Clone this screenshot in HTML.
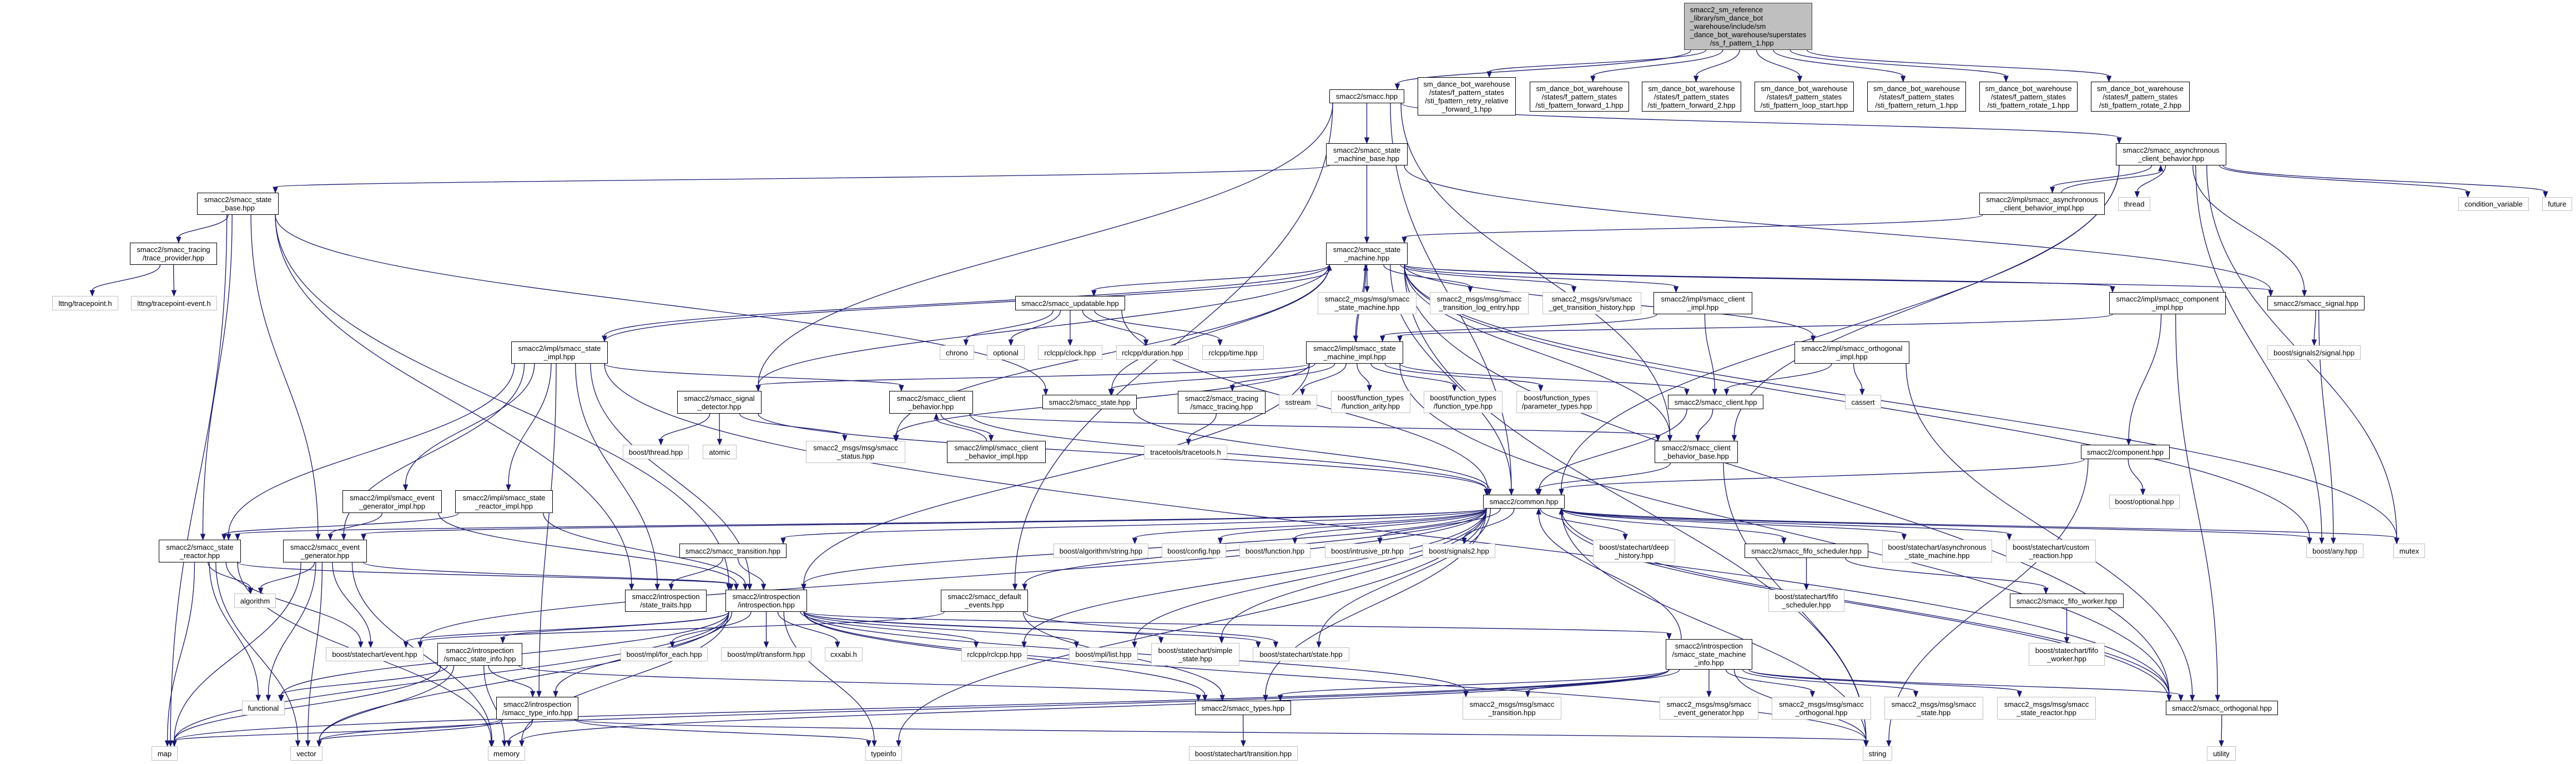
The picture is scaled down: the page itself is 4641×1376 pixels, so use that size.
<!DOCTYPE html>
<html><head><meta charset="utf-8">
<style>
html,body{margin:0;padding:0;background:#fff;}
#wrap{position:relative;width:4641px;height:1376px;overflow:hidden;background:#fff;}
svg{position:absolute;left:0;top:0;}
.n{position:absolute;box-sizing:border-box;border:1.5px solid #000;background:#fff;display:flex;align-items:center;justify-content:center;text-align:center;font:13px/15px "Liberation Sans",sans-serif;white-space:nowrap;color:#000;}
.n span{display:inline-block;transform-origin:center center;}
.g{border-color:#c0c0c0;}
#root{background:#bfbfbf;border-color:#404040;text-align:left;}
</style></head><body><div id="wrap">
<svg id="ed" width="4641" height="1376"></svg>
<div class="n" id="root" style="left:3034px;top:5px;width:231px;height:85px"><span>smacc2_sm_reference<br>_library/sm_dance_bot<br>_warehouse/include/sm<br>_dance_bot_warehouse/superstates<br>&nbsp;&nbsp;&nbsp;&nbsp;&nbsp;&nbsp;&nbsp;&nbsp;&nbsp;&nbsp;/ss_f_pattern_1.hpp</span></div>
<div class="n" id="smacc" style="left:2395px;top:161px;width:135px;height:25px"><span>smacc2/smacc.hpp</span></div>
<div class="n" id="retry" style="left:2554px;top:139px;width:177px;height:69px"><span>sm_dance_bot_warehouse<br>/states/f_pattern_states<br>/sti_fpattern_retry_relative<br>_forward_1.hpp</span></div>
<div class="n" id="fwd1" style="left:2756px;top:147px;width:179px;height:54px"><span>sm_dance_bot_warehouse<br>/states/f_pattern_states<br>/sti_fpattern_forward_1.hpp</span></div>
<div class="n" id="fwd2" style="left:2958px;top:147px;width:179px;height:54px"><span>sm_dance_bot_warehouse<br>/states/f_pattern_states<br>/sti_fpattern_forward_2.hpp</span></div>
<div class="n" id="loop" style="left:3161px;top:147px;width:179px;height:54px"><span>sm_dance_bot_warehouse<br>/states/f_pattern_states<br>/sti_fpattern_loop_start.hpp</span></div>
<div class="n" id="ret1" style="left:3364px;top:147px;width:178px;height:54px"><span>sm_dance_bot_warehouse<br>/states/f_pattern_states<br>/sti_fpattern_return_1.hpp</span></div>
<div class="n" id="rot1" style="left:3566px;top:147px;width:177px;height:54px"><span>sm_dance_bot_warehouse<br>/states/f_pattern_states<br>/sti_fpattern_rotate_1.hpp</span></div>
<div class="n" id="rot2" style="left:3767px;top:147px;width:178px;height:54px"><span>sm_dance_bot_warehouse<br>/states/f_pattern_states<br>/sti_fpattern_rotate_2.hpp</span></div>
<div class="n" id="smb" style="left:2389px;top:258px;width:147px;height:40px"><span>smacc2/smacc_state<br>_machine_base.hpp</span></div>
<div class="n" id="async" style="left:3812px;top:258px;width:199px;height:40px"><span>smacc2/smacc_asynchronous<br>_client_behavior.hpp</span></div>
<div class="n" id="sbase" style="left:355px;top:347px;width:147px;height:40px"><span>smacc2/smacc_state<br>_base.hpp</span></div>
<div class="n" id="asyncimpl" style="left:3566px;top:347px;width:226px;height:40px"><span>smacc2/impl/smacc_asynchronous<br>_client_behavior_impl.hpp</span></div>
<div class="n g" id="thread" style="left:3816px;top:355px;width:58px;height:25px"><span>thread</span></div>
<div class="n g" id="condvar" style="left:4429px;top:355px;width:127px;height:25px"><span>condition_variable</span></div>
<div class="n g" id="future" style="left:4580px;top:355px;width:54px;height:25px"><span>future</span></div>
<div class="n" id="tracep" style="left:234px;top:437px;width:157px;height:40px"><span>smacc2/smacc_tracing<br>/trace_provider.hpp</span></div>
<div class="n" id="sm" style="left:2389px;top:437px;width:147px;height:40px"><span>smacc2/smacc_state<br>_machine.hpp</span></div>
<div class="n g" id="lttng1" style="left:94px;top:533px;width:119px;height:26px"><span>lttng/tracepoint.h</span></div>
<div class="n g" id="lttng2" style="left:236px;top:533px;width:155px;height:26px"><span>lttng/tracepoint-event.h</span></div>
<div class="n" id="updatable" style="left:1829px;top:533px;width:198px;height:26px"><span>smacc2/smacc_updatable.hpp</span></div>
<div class="n g" id="msgsm" style="left:2374px;top:526px;width:178px;height:40px"><span>smacc2_msgs/msg/smacc<br>_state_machine.hpp</span></div>
<div class="n g" id="msgtle" style="left:2576px;top:526px;width:178px;height:40px"><span>smacc2_msgs/msg/smacc<br>_transition_log_entry.hpp</span></div>
<div class="n g" id="srvgth" style="left:2779px;top:526px;width:178px;height:40px"><span>smacc2_msgs/srv/smacc<br>_get_transition_history.hpp</span></div>
<div class="n" id="clientimpl" style="left:2979px;top:526px;width:178px;height:40px"><span>smacc2/impl/smacc_client<br>_impl.hpp</span></div>
<div class="n" id="compimpl" style="left:3800px;top:526px;width:210px;height:40px"><span>smacc2/impl/smacc_component<br>_impl.hpp</span></div>
<div class="n" id="signal" style="left:4085px;top:533px;width:175px;height:26px"><span>smacc2/smacc_signal.hpp</span></div>
<div class="n" id="stateimpl" style="left:921px;top:615px;width:174px;height:40px"><span>smacc2/impl/smacc_state<br>_impl.hpp</span></div>
<div class="n g" id="chrono" style="left:1693px;top:622px;width:62px;height:26px"><span>chrono</span></div>
<div class="n g" id="optional" style="left:1778px;top:622px;width:68px;height:26px"><span>optional</span></div>
<div class="n g" id="clock" style="left:1870px;top:622px;width:116px;height:26px"><span>rclcpp/clock.hpp</span></div>
<div class="n g" id="duration" style="left:2011px;top:622px;width:131px;height:26px"><span>rclcpp/duration.hpp</span></div>
<div class="n g" id="time" style="left:2166px;top:622px;width:111px;height:26px"><span>rclcpp/time.hpp</span></div>
<div class="n" id="smimpl" style="left:2353px;top:615px;width:175px;height:40px"><span>smacc2/impl/smacc_state<br>_machine_impl.hpp</span></div>
<div class="n" id="orthimpl" style="left:3233px;top:615px;width:207px;height:40px"><span>smacc2/impl/smacc_orthogonal<br>_impl.hpp</span></div>
<div class="n g" id="sig2sig" style="left:4085px;top:622px;width:168px;height:26px"><span>boost/signals2/signal.hpp</span></div>
<div class="n" id="sigdet" style="left:1220px;top:704px;width:152px;height:41px"><span>smacc2/smacc_signal<br>_detector.hpp</span></div>
<div class="n" id="cb" style="left:1602px;top:704px;width:151px;height:41px"><span>smacc2/smacc_client<br>_behavior.hpp</span></div>
<div class="n" id="state" style="left:1878px;top:711px;width:170px;height:26px"><span>smacc2/smacc_state.hpp</span></div>
<div class="n" id="tracing" style="left:2122px;top:704px;width:158px;height:41px"><span>smacc2/smacc_tracing<br>/smacc_tracing.hpp</span></div>
<div class="n g" id="sstream" style="left:2304px;top:711px;width:69px;height:26px"><span>sstream</span></div>
<div class="n g" id="farity" style="left:2398px;top:704px;width:143px;height:40px"><span>boost/function_types<br>/function_arity.hpp</span></div>
<div class="n g" id="ftype" style="left:2565px;top:704px;width:142px;height:40px"><span>boost/function_types<br>/function_type.hpp</span></div>
<div class="n g" id="ptypes" style="left:2732px;top:704px;width:146px;height:40px"><span>boost/function_types<br>/parameter_types.hpp</span></div>
<div class="n" id="client" style="left:3005px;top:711px;width:172px;height:26px"><span>smacc2/smacc_client.hpp</span></div>
<div class="n g" id="cassert" style="left:3324px;top:711px;width:65px;height:26px"><span>cassert</span></div>
<div class="n g" id="bthread" style="left:1122px;top:801px;width:119px;height:26px"><span>boost/thread.hpp</span></div>
<div class="n g" id="atomic" style="left:1266px;top:801px;width:61px;height:26px"><span>atomic</span></div>
<div class="n g" id="status" style="left:1452px;top:794px;width:179px;height:40px"><span>smacc2_msgs/msg/smacc<br>_status.hpp</span></div>
<div class="n" id="cbimpl" style="left:1706px;top:794px;width:178px;height:40px"><span>smacc2/impl/smacc_client<br>_behavior_impl.hpp</span></div>
<div class="n g" id="tracetools" style="left:2061px;top:801px;width:150px;height:26px"><span>tracetools/tracetools.h</span></div>
<div class="n" id="cbb" style="left:2981px;top:794px;width:150px;height:40px"><span>smacc2/smacc_client<br>_behavior_base.hpp</span></div>
<div class="n" id="component" style="left:3749px;top:801px;width:160px;height:26px"><span>smacc2/component.hpp</span></div>
<div class="n" id="egimpl" style="left:617px;top:883px;width:179px;height:41px"><span>smacc2/impl/smacc_event<br>_generator_impl.hpp</span></div>
<div class="n" id="srimpl" style="left:820px;top:883px;width:176px;height:41px"><span>smacc2/impl/smacc_state<br>_reactor_impl.hpp</span></div>
<div class="n" id="common" style="left:2672px;top:891px;width:147px;height:25px"><span>smacc2/common.hpp</span></div>
<div class="n g" id="boptional" style="left:3800px;top:891px;width:127px;height:25px"><span>boost/optional.hpp</span></div>
<div class="n" id="sreactor" style="left:286px;top:972px;width:148px;height:41px"><span>smacc2/smacc_state<br>_reactor.hpp</span></div>
<div class="n" id="egen" style="left:510px;top:972px;width:151px;height:41px"><span>smacc2/smacc_event<br>_generator.hpp</span></div>
<div class="n" id="transition" style="left:1224px;top:979px;width:193px;height:26px"><span>smacc2/smacc_transition.hpp</span></div>
<div class="n g" id="algstr" style="left:1898px;top:979px;width:171px;height:26px"><span>boost/algorithm/string.hpp</span></div>
<div class="n g" id="config" style="left:2093px;top:979px;width:116px;height:26px"><span>boost/config.hpp</span></div>
<div class="n g" id="function" style="left:2233px;top:979px;width:128px;height:26px"><span>boost/function.hpp</span></div>
<div class="n g" id="intrusive" style="left:2387px;top:979px;width:153px;height:26px"><span>boost/intrusive_ptr.hpp</span></div>
<div class="n g" id="signals2" style="left:2563px;top:979px;width:131px;height:26px"><span>boost/signals2.hpp</span></div>
<div class="n g" id="deephist" style="left:2870px;top:972px;width:148px;height:41px"><span>boost/statechart/deep<br>_history.hpp</span></div>
<div class="n" id="fifosched" style="left:3143px;top:979px;width:223px;height:26px"><span>smacc2/smacc_fifo_scheduler.hpp</span></div>
<div class="n g" id="asyncsm" style="left:3391px;top:972px;width:198px;height:41px"><span>boost/statechart/asynchronous<br>_state_machine.hpp</span></div>
<div class="n g" id="custom" style="left:3614px;top:972px;width:162px;height:41px"><span>boost/statechart/custom<br>_reaction.hpp</span></div>
<div class="n g" id="any" style="left:4155px;top:979px;width:103px;height:26px"><span>boost/any.hpp</span></div>
<div class="n g" id="mutex" style="left:4312px;top:979px;width:57px;height:26px"><span>mutex</span></div>
<div class="n g" id="algorithm" style="left:422px;top:1069px;width:75px;height:26px"><span>algorithm</span></div>
<div class="n" id="traits" style="left:1126px;top:1062px;width:147px;height:40px"><span>smacc2/introspection<br>/state_traits.hpp</span></div>
<div class="n" id="intro" style="left:1307px;top:1062px;width:147px;height:40px"><span>smacc2/introspection<br>/introspection.hpp</span></div>
<div class="n" id="defev" style="left:1695px;top:1062px;width:157px;height:40px"><span>smacc2/smacc_default<br>_events.hpp</span></div>
<div class="n g" id="scfifo" style="left:3186px;top:1062px;width:137px;height:40px"><span>boost/statechart/fifo<br>_scheduler.hpp</span></div>
<div class="n" id="fifoworker" style="left:3621px;top:1069px;width:205px;height:26px"><span>smacc2/smacc_fifo_worker.hpp</span></div>
<div class="n g" id="scevent" style="left:587px;top:1166px;width:176px;height:25px"><span>boost/statechart/event.hpp</span></div>
<div class="n" id="stateinfo" style="left:788px;top:1158px;width:153px;height:41px"><span>smacc2/introspection<br>/smacc_state_info.hpp</span></div>
<div class="n g" id="foreach" style="left:1118px;top:1166px;width:157px;height:25px"><span>boost/mpl/for_each.hpp</span></div>
<div class="n g" id="transform" style="left:1299px;top:1166px;width:163px;height:25px"><span>boost/mpl/transform.hpp</span></div>
<div class="n g" id="cxxabi" style="left:1486px;top:1166px;width:68px;height:25px"><span>cxxabi.h</span></div>
<div class="n g" id="rclcpp" style="left:1732px;top:1166px;width:119px;height:25px"><span>rclcpp/rclcpp.hpp</span></div>
<div class="n g" id="mpllist" style="left:1926px;top:1166px;width:124px;height:25px"><span>boost/mpl/list.hpp</span></div>
<div class="n g" id="simple" style="left:2074px;top:1158px;width:159px;height:41px"><span>boost/statechart/simple<br>_state.hpp</span></div>
<div class="n g" id="scstate" style="left:2257px;top:1166px;width:174px;height:25px"><span>boost/statechart/state.hpp</span></div>
<div class="n" id="sminfo" style="left:3001px;top:1151px;width:156px;height:55px"><span>smacc2/introspection<br>/smacc_state_machine<br>_info.hpp</span></div>
<div class="n g" id="scfifow" style="left:3655px;top:1158px;width:137px;height:41px"><span>boost/statechart/fifo<br>_worker.hpp</span></div>
<div class="n g" id="functional" style="left:436px;top:1262px;width:77px;height:26px"><span>functional</span></div>
<div class="n" id="tinfo" style="left:894px;top:1255px;width:148px;height:41px"><span>smacc2/introspection<br>/smacc_type_info.hpp</span></div>
<div class="n" id="types" style="left:2153px;top:1262px;width:173px;height:26px"><span>smacc2/smacc_types.hpp</span></div>
<div class="n g" id="msgtr" style="left:2635px;top:1255px;width:178px;height:41px"><span>smacc2_msgs/msg/smacc<br>_transition.hpp</span></div>
<div class="n g" id="msgeg" style="left:2990px;top:1255px;width:178px;height:41px"><span>smacc2_msgs/msg/smacc<br>_event_generator.hpp</span></div>
<div class="n g" id="msgorth" style="left:3192px;top:1255px;width:179px;height:41px"><span>smacc2_msgs/msg/smacc<br>_orthogonal.hpp</span></div>
<div class="n g" id="msgstate" style="left:3395px;top:1255px;width:178px;height:41px"><span>smacc2_msgs/msg/smacc<br>_state.hpp</span></div>
<div class="n g" id="msgsr" style="left:3598px;top:1255px;width:178px;height:41px"><span>smacc2_msgs/msg/smacc<br>_state_reactor.hpp</span></div>
<div class="n" id="orth" style="left:3902px;top:1262px;width:202px;height:26px"><span>smacc2/smacc_orthogonal.hpp</span></div>
<div class="n g" id="map" style="left:273px;top:1344px;width:47px;height:26px"><span>map</span></div>
<div class="n g" id="vector" style="left:523px;top:1344px;width:58px;height:26px"><span>vector</span></div>
<div class="n g" id="memory" style="left:879px;top:1344px;width:67px;height:26px"><span>memory</span></div>
<div class="n g" id="typeinfo" style="left:1559px;top:1344px;width:66px;height:26px"><span>typeinfo</span></div>
<div class="n g" id="sctrans" style="left:2142px;top:1344px;width:196px;height:26px"><span>boost/statechart/transition.hpp</span></div>
<div class="n g" id="string" style="left:3356px;top:1344px;width:53px;height:26px"><span>string</span></div>
<div class="n g" id="utility" style="left:3976px;top:1344px;width:52px;height:26px"><span>utility</span></div>
</div>
<script>
(function(){
var E="root>smacc root>retry root>fwd1 root>fwd2 root>loop root>ret1 root>rot1 root>rot2 "+
"smacc>smb smacc>async smacc>sigdet smacc>defev smacc>cbb smacc>common "+
"smb>sbase smb>sm smb>signal "+
"sbase>tracep sbase>sreactor sbase>egen sbase>intro sbase>traits sbase>state sbase>map "+
"tracep>lttng1 tracep>lttng2 "+
"sm>msgsm sm>msgtle sm>srvgth sm>clientimpl sm>smimpl sm>orthimpl sm>updatable sm>stateimpl sm>signal sm>compimpl sm>any sm>mutex sm>common sm>state sm>status sm>sigdet sm>cbb sm>orth sm>string "+
"async>asyncimpl asyncimpl>sm asyncimpl>async async>thread async>condvar async>future async>signal async>common async>any async>mutex async>cbb "+
"updatable>chrono updatable>optional updatable>clock updatable>duration updatable>time updatable>common "+
"smimpl>state smimpl>tracing smimpl>sstream smimpl>farity smimpl>ftype smimpl>ptypes smimpl>client smimpl>orth smimpl>sigdet smimpl>intro smimpl>status smimpl>sm "+
"clientimpl>smimpl clientimpl>client orthimpl>client orthimpl>cassert orthimpl>orth compimpl>smimpl compimpl>component compimpl>orth "+
"signal>sig2sig signal>any "+
"stateimpl>sreactor stateimpl>egen stateimpl>egimpl stateimpl>srimpl stateimpl>intro stateimpl>sm stateimpl>traits stateimpl>tinfo stateimpl>cb stateimpl>orth "+
"sigdet>bthread sigdet>atomic sigdet>status sigdet>common cb>cbimpl cbimpl>cb cb>common cb>cbb "+
"state>common tracing>tracetools client>common client>cbb cbb>common cbb>string component>common component>boptional component>string "+
"common>transition common>intro common>defev common>algstr common>config common>function common>intrusive common>signals2 common>deephist common>fifosched common>asyncsm common>custom common>any common>mutex common>rclcpp common>mpllist common>simple common>scstate common>scevent common>types common>orth common>string common>typeinfo common>sreactor common>egen "+
"sminfo>common fifosched>scfifo fifosched>fifoworker fifoworker>scfifow transition>intro transition>traits "+
"intro>foreach intro>transform intro>cxxabi intro>rclcpp intro>mpllist intro>simple intro>scstate intro>scevent intro>stateinfo intro>tinfo intro>types intro>typeinfo intro>sminfo intro>msgtr intro>map intro>vector intro>memory intro>string intro>functional "+
"defev>scevent defev>types defev>scstate "+
"stateinfo>functional stateinfo>tinfo stateinfo>memory stateinfo>vector stateinfo>map stateinfo>types "+
"tinfo>map tinfo>vector tinfo>memory tinfo>typeinfo tinfo>string "+
"sreactor>algorithm sreactor>map sreactor>vector sreactor>functional sreactor>scevent sreactor>memory sreactor>intro "+
"egen>algorithm egen>map egen>vector egen>functional egen>scevent egen>memory egen>intro "+
"egimpl>egen egimpl>intro srimpl>sreactor srimpl>intro "+
"sminfo>msgtr sminfo>msgeg sminfo>msgorth sminfo>msgstate sminfo>msgsr sminfo>string sminfo>vector sminfo>memory sminfo>map sminfo>orth sminfo>types "+
"types>sctrans orth>utility orth>common";
function box(id){var d=document.getElementById(id);return {x:d.offsetLeft,y:d.offsetTop,w:d.offsetWidth,h:d.offsetHeight};}
function cl(v,a,b){return Math.max(a,Math.min(b,v));}
var svg=document.getElementById('ed'),ns="http://www.w3.org/2000/svg",out="";
E.split(/\s+/).forEach(function(p){
 if(!p)return;var q=p.split('>'),A=box(q[0]),B=box(q[1]);
 var acx=A.x+A.w/2,bcx=B.x+B.w/2,sx,sy,ex,ey,c1x,c1y,c2x,c2y;
 if(B.y>=A.y+A.h-2){
  sx=acx+cl((bcx-acx)*0.15,-A.w/2+6,A.w/2-6);sy=A.y+A.h;
  ex=bcx+cl((acx-bcx)*0.08,-B.w/2+6,B.w/2-6);ey=B.y;
  var k=(ey-sy)*0.45;c1x=sx;c1y=sy+k;c2x=ex;c2y=ey-k;
 } else if(B.y+B.h<=A.y+2){
  sx=acx+cl((bcx-acx)*0.15,-A.w/2+6,A.w/2-6);sy=A.y;
  ex=bcx+cl((acx-bcx)*0.08,-B.w/2+6,B.w/2-6);ey=B.y+B.h;
  var k=(sy-ey)*0.45;c1x=sx;c1y=sy-k;c2x=ex;c2y=ey+k;
 } else {
  var r=bcx>acx;sx=r?A.x+A.w:A.x;sy=A.y+A.h/2;ex=r?B.x:B.x+B.w;ey=B.y+B.h/2;
  c1x=(sx+ex)/2;c1y=sy;c2x=(sx+ex)/2;c2y=ey;
 }
 var dx=ex-c2x,dy=ey-c2y,L=Math.sqrt(dx*dx+dy*dy)||1;dx/=L;dy/=L;
 var bx=ex-dx*10,by=ey-dy*10;
 out+='<path d="M'+sx.toFixed(1)+','+sy.toFixed(1)+' C'+c1x.toFixed(1)+','+c1y.toFixed(1)+' '+c2x.toFixed(1)+','+c2y.toFixed(1)+' '+bx.toFixed(1)+','+by.toFixed(1)+'" fill="none" stroke="#191970" stroke-width="1.3"/>';
 out+='<polygon points="'+ex.toFixed(1)+','+ey.toFixed(1)+' '+(bx-dy*4).toFixed(1)+','+(by+dx*4).toFixed(1)+' '+(bx+dy*4).toFixed(1)+','+(by-dx*4).toFixed(1)+'" fill="#191970" stroke="#191970"/>';
});
svg.innerHTML=out;
var ns2=document.querySelectorAll('.n');
for(var i=0;i<ns2.length;i++){var d=ns2[i],s=d.firstChild;var avail=d.clientWidth-10;var w=s.offsetWidth;if(w>avail){s.style.transform='scaleX('+(avail/w).toFixed(3)+')';}}
})();
</script>
</body></html>
